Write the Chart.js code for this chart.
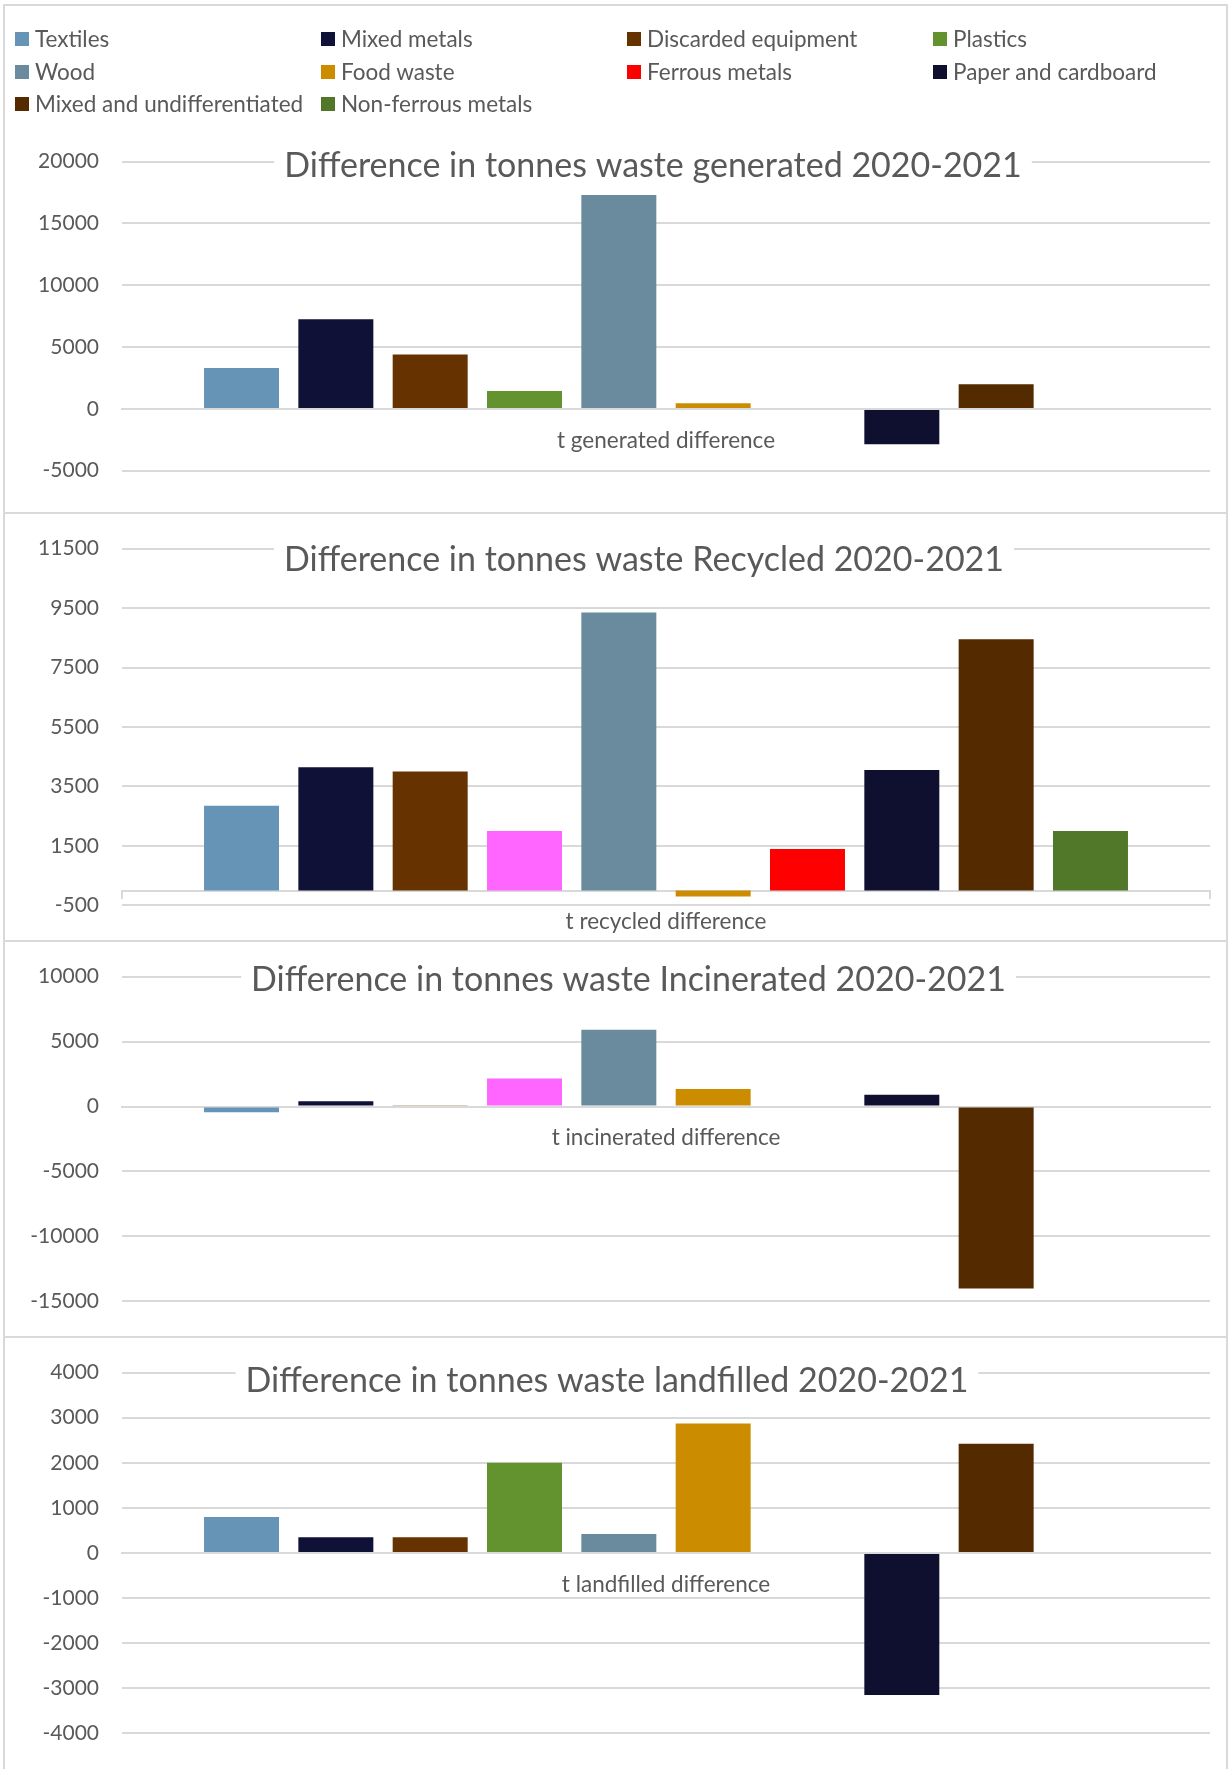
<!DOCTYPE html>
<html>
<head>
<meta charset="utf-8">
<script src="https://cdn.jsdelivr.net/npm/chart.js@4.4.0/dist/chart.umd.min.js"></script>
<style>
  html, body { margin: 0; padding: 0; background: #fff; }
  body { width: 1228px; height: 1769px; position: relative; overflow: hidden; font-family: Lato, sans-serif; }
  .panel { position: absolute; left: 3px; width: 1225px; box-sizing: border-box; border: 2px solid #d9d9d9; }
  canvas { position: absolute; left: 0; }
  .legend-item { position: absolute; font-size: 22.5px; color: #595959; line-height: 22px; white-space: nowrap; }
  .legend-item span { position: absolute; left: 0; top: 4px; width: 14px; height: 14px; }
  .legend-item div { position: absolute; left: 20px; top: 0; }
</style>
</head>
<body>

<div class="panel" style="top:4px;height:510px"></div>
<div class="panel" style="top:512px;height:430px"></div>
<div class="panel" style="top:940px;height:398px"></div>
<div class="panel" style="top:1336px;height:500px"></div>

<canvas id="genChart"></canvas>
<canvas id="recChart"></canvas>
<canvas id="incChart"></canvas>
<canvas id="lanChart"></canvas>

<div id="legend"></div>

<script>
/* waste streams */
var categories = ["Textiles", "Mixed metals", "Discarded equipment", "Plastics", "Wood",
  "Food waste", "Ferrous metals", "Paper and cardboard", "Mixed and undifferentiated", "Non-ferrous metals"];

// tonnes difference 2020-2021, same order as categories
var generated   = [3300, 7250, 4400, 1450, 17300, 450, 0, -2850, 2000, 0];
var recycled    = [2850, 4150, 4000, 2000, 9350, -200, 1400, 4050, 8450, 2000];
var incinerated = [-450, 400, 100, 2150, 5900, 1350, 0, 900, -14000, 0];
var landfilled  = [800, 350, 350, 2000, 420, 2870, 0, -3150, 2420, 0];

// y axis ticks
var generatedTicks   = [-5000, 0, 5000, 10000, 15000, 20000];
var recycledTicks    = [-500, 1500, 3500, 5500, 7500, 9500, 11500];
var incineratedTicks = [-15000, -10000, -5000, 0, 5000, 10000];
var landfilledTicks  = [-4000, -3000, -2000, -1000, 0, 1000, 2000, 3000, 4000];

var colours = ["#6694b6", "#0f1136", "#663300", "#62932f", "#6a8a9d",
  "#cc8c00", "#ff0000", "#0f1030", "#542a00", "#507828"];
var pink = "#ff66ff";

var textGrey = "#595959";
var gridGrey = "#d9d9d9";

// legend (html, four columns)
var legend = document.getElementById("legend");
categories.forEach(function (name, i) {
  var item = document.createElement("div");
  item.className = "legend-item";
  item.style.left = (15 + 306 * (i % 4)) + "px";
  item.style.top = (28 + 32.7 * Math.floor(i / 4)) + "px";
  item.innerHTML = '<span style="background:' + colours[i] + '"></span><div>' + name + '</div>';
  legend.appendChild(item);
});

// title drawn over the plot, knocking out the gridlines behind it
var overlayTitle = {
  id: "overlayTitle",
  beforeDatasetsDraw: function (chart, args, opts) {
    var ctx = chart.ctx;
    ctx.save();
    ctx.font = opts.size + "px Lato";
    var w = ctx.measureText(opts.text).width;
    ctx.fillStyle = "#fff";
    ctx.fillRect(opts.x - w / 2 - 10, opts.y - 32, w + 20, 40);
    ctx.fillStyle = textGrey;
    ctx.textAlign = "center";
    ctx.textBaseline = "alphabetic";
    ctx.fillText(opts.text, opts.x, opts.y);
    ctx.restore();
  }
};

var panels = [
  { id: "genChart", top: 0, height: 513, values: generated, ticks: generatedTicks,
    label: "t generated difference", title: "Difference in tonnes waste generated 2020-2021",
    titleX: 653, titleY: 176.7, plotTop: 161.7, plotBottom: 470.7, plastics: colours[3], endTicks: false },
  { id: "recChart", top: 513, height: 428, values: recycled, ticks: recycledTicks,
    label: "t recycled difference", title: "Difference in tonnes waste Recycled 2020-2021",
    titleX: 644, titleY: 571, plotTop: 533.3, plotBottom: 908.3, plastics: pink, endTicks: true },
  { id: "incChart", top: 941, height: 396, values: incinerated, ticks: incineratedTicks,
    label: "t incinerated difference", title: "Difference in tonnes waste Incinerated 2020-2021",
    titleX: 628.5, titleY: 991, plotTop: 964.3, plotBottom: 1307.3, plastics: pink, endTicks: false },
  { id: "lanChart", top: 1337, height: 432, values: landfilled, ticks: landfilledTicks,
    label: "t landfilled difference", title: "Difference in tonnes waste landfilled 2020-2021",
    titleX: 607, titleY: 1391.7, plotTop: 1365.3, plotBottom: 1738.3, plastics: colours[3], endTicks: false }
];

panels.forEach(function (p) {
  var canvas = document.getElementById(p.id);
  canvas.width = 1228;
  canvas.height = p.height;
  canvas.style.top = p.top + "px";

  var datasets = categories.map(function (name, i) {
    return {
      label: name,
      data: [p.values[i]],
      backgroundColor: i === 3 ? p.plastics : colours[i],
      borderWidth: 0,
      barPercentage: 0.795,
      categoryPercentage: 0.867
    };
  });

  new Chart(canvas, {
    type: "bar",
    data: { labels: [p.label], datasets: datasets },
    plugins: [overlayTitle],
    options: {
      responsive: false,
      animation: false,
      events: [],
      layout: {
        padding: { top: p.plotTop - p.top, bottom: p.top + p.height - p.plotBottom, left: 0, right: 18 }
      },
      plugins: {
        legend: { display: false },
        tooltip: { enabled: false },
        overlayTitle: { text: p.title, x: p.titleX, y: p.titleY - p.top, size: 34 }
      },
      scales: {
        x: {
          position: { y: 0 },
          // only the recycled chart shows tick marks at the ends of its axis
          grid: { display: p.endTicks, drawOnChartArea: false, drawTicks: p.endTicks, tickLength: 7, color: gridGrey, lineWidth: 2 },
          border: { display: true, color: gridGrey, width: 2 },
          ticks: { color: textGrey, font: { family: "Lato", size: 22.5 }, padding: p.endTicks ? 11 : 18 }
        },
        y: {
          min: p.ticks[0],
          max: p.ticks[p.ticks.length - 1],
          afterFit: function (scale) { scale.width = 122; },
          afterBuildTicks: function (scale) {
            scale.ticks = p.ticks.map(function (v) { return { value: v }; });
          },
          grid: { color: gridGrey, lineWidth: 2, drawTicks: false },
          border: { display: false },
          ticks: {
            color: textGrey, font: { family: "Lato", size: 21 }, padding: 23,
            callback: function (v) { return String(v); }
          }
        }
      }
    }
  });
});
</script>
</body>
</html>
